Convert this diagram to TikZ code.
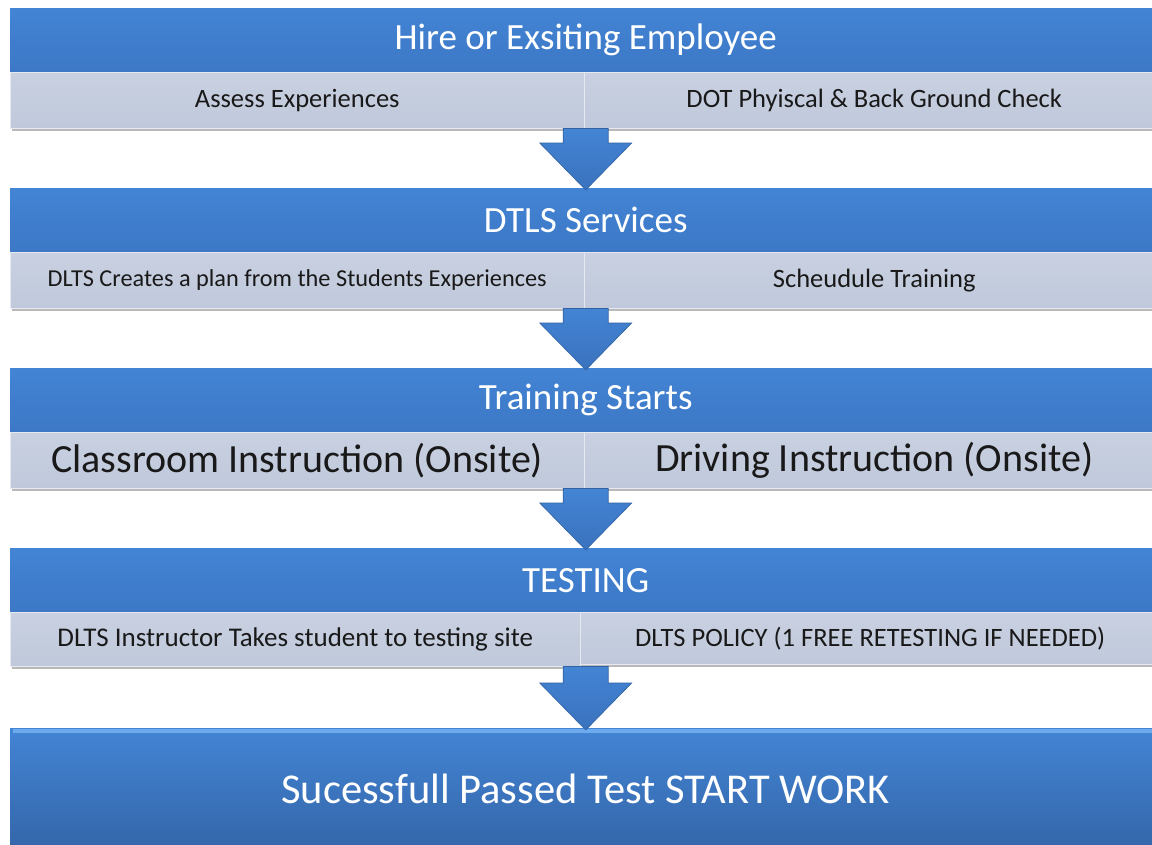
\documentclass[tikz,border=0pt]{standalone}
\usepackage{fontspec}
\setmainfont{Carlito}
\usetikzlibrary{calc,shadows}

\definecolor{barblue}{HTML}{4384D4}
\definecolor{barbluedark}{HTML}{3C78C6}
\definecolor{cellgray}{HTML}{C0C9DB}
\definecolor{cellgraylight}{HTML}{C8D0E1}
\definecolor{arrowblue}{HTML}{3A72BE}
\definecolor{endblue}{HTML}{3466A9}
\definecolor{edgeblue}{HTML}{6DABEE}

\tikzset{
  headbar/.style={anchor=north west, minimum width=1151pt, minimum height=64pt,
    inner sep=0pt, top color=barblue, bottom color=barbluedark, text=white,
    font=\fontsize{37}{40}\selectfont,
    drop shadow={shadow xshift=2pt, shadow yshift=-3pt, opacity=.4}},
  cellbox/.style={anchor=north west, minimum height=56pt, inner sep=0pt,
    top color=cellgraylight, bottom color=cellgray, draw=white!60!cellgray,
    line width=0.5pt, text=black!90,
    drop shadow={shadow xshift=2pt, shadow yshift=-3pt, opacity=.55}},
  endbar/.style={anchor=north west, minimum width=1151pt, minimum height=122pt,
    inner sep=0pt, top color=barblue, bottom color=endblue, text=white,
    font=\fontsize{42.5}{46}\selectfont},
  small/.style={font=\fontsize{26.5}{30}\selectfont},
  smaller/.style={font=\fontsize{24.3}{28}\selectfont},
  large/.style={font=\fontsize{40}{44}\selectfont}
}

\begin{document}
\begin{tikzpicture}[x=1pt, y=-1pt]
    \useasboundingbox (0,0) rectangle (1152,844);
    % Hire stage
    \node[headbar] (h1) at (10,8) {Hire or Exsiting Employee};
    \node[cellbox, small, minimum width=574pt] (c1l) at (10,72) {Assess Experiences};
    \node[cellbox, small, minimum width=580pt] (c1r) at (584,72) {DOT Phyiscal \& Back Ground Check};
    % Services stage
    \node[headbar] (h2) at (10,188) {DTLS Services};
    \node[cellbox, smaller, minimum width=574pt] (c2l) at (10,252) {DLTS Creates a plan from the Students Experiences};
    \node[cellbox, small, minimum width=580pt] (c2r) at (584,252) {Scheudule Training};
    % Training stage
    \node[headbar] (h3) at (10,368) {Training Starts};
    \node[cellbox, large, minimum width=574pt] (c3l) at (10,432) {Classroom Instruction (Onsite)};
    \node[cellbox, large, minimum width=580pt] (c3r) at (584,432) {Driving Instruction (Onsite)};
    % Testing stage
    \node[headbar] (h4) at (10,548) {TESTING};
    \node[cellbox, small, font=\fontsize{27}{30}\selectfont, minimum width=570pt, minimum height=54pt] (c4l) at (10,612) {DLTS Instructor Takes student to testing site};
    \node[cellbox, small, minimum width=580pt, minimum height=52pt] (c4r) at (580,612) {DLTS POLICY (1 FREE RETESTING IF NEEDED)};
    % Result
    \node[endbar] (fin) at (10,728) {Sucessfull Passed Test START WORK};
    \draw[edgeblue, line width=4pt] ($(fin.north west)+(3,3)$) -- ($(fin.north east)+(0,3)$);
    % Block arrows between stages
    \foreach \a/\b in {c1l/h2, c2l/h3, c3l/h4, c4l/fin} {
        \shade[top color=barblue, bottom color=arrowblue, draw=arrowblue!85!black, line width=0.6pt]
            let \p1=(\a.south), \p2=(\b.north) in
            (\x2-22.5pt,\y1) -- (\x2+22.5pt,\y1) -- (\x2+22.5pt,\y2+45pt) -- (\x2+46pt,\y2+45pt)
            -- (\x2,\y2-2pt) -- (\x2-46pt,\y2+45pt) -- (\x2-22.5pt,\y2+45pt) -- cycle;
    }
\end{tikzpicture}
\end{document}
